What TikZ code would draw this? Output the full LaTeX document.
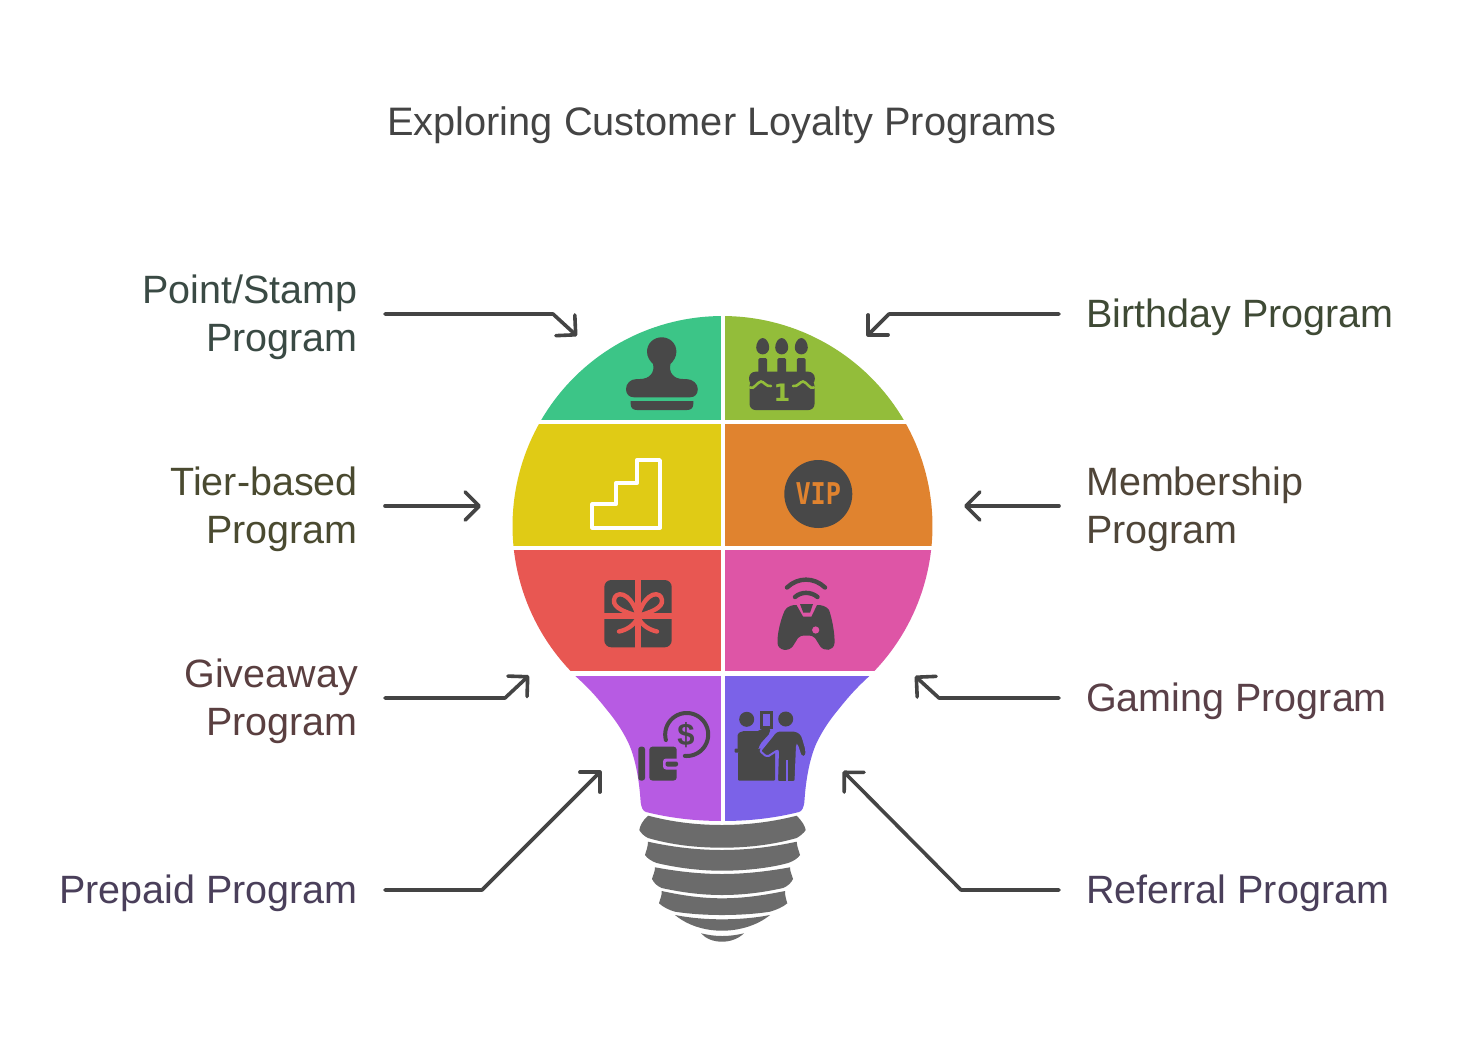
\documentclass[tikz,border=0pt]{standalone}
\usepackage{fontspec}
\setmainfont{Liberation Sans}
\newfontfamily\vipfont{DejaVu Sans Mono}
\newfontfamily\onefont{DejaVu Sans}
\usetikzlibrary{arrows.meta}
\definecolor{icondark}{HTML}{484848}
\definecolor{basegrey}{HTML}{6B6B6B}
\definecolor{linegrey}{HTML}{444444}
\definecolor{cgreen}{HTML}{3CC587}
\definecolor{clime}{HTML}{93BD3A}
\definecolor{cyellow}{HTML}{E0CB15}
\definecolor{corange}{HTML}{E0832F}
\definecolor{cred}{HTML}{E85752}
\definecolor{cpink}{HTML}{DE55A6}
\definecolor{cpurple}{HTML}{B75BE3}
\definecolor{cindigo}{HTML}{7B62E8}
\definecolor{tA}{HTML}{3A4A44}\definecolor{tB}{HTML}{3F4A35}
\definecolor{tC}{HTML}{4A4A30}\definecolor{tD}{HTML}{4F4538}
\definecolor{tE}{HTML}{5A3F40}\definecolor{tF}{HTML}{5A4048}
\definecolor{tG}{HTML}{4A3F5A}\definecolor{tH}{HTML}{4A3F5A}
\newcommand{\lst}{\rule[-11pt]{0pt}{48pt}}
\tikzset{
  labL/.style={anchor=east,align=right,inner ysep=0pt,inner xsep=0pt,font=\fontsize{39.5}{48}\selectfont},
  labR/.style={anchor=west,align=left,inner ysep=0pt,inner xsep=0pt,font=\fontsize{39.5}{48}\selectfont},
  conn/.style={draw=linegrey,line width=3.6pt,line cap=round,line join=round,-{Straight Barb[length=14pt,width=28pt,round]}},
  ico/.style={fill=icondark,draw=none},
  seg/.style={fill=basegrey,draw=none}
}
\begin{document}
\begin{tikzpicture}[x=1pt,y=-1pt]
\useasboundingbox (0,0) rectangle (1468,1042);
\fill[white] (0,0) rectangle (1468,1042);
\node[anchor=base,font=\fontsize{39.75}{48}\selectfont,text=linegrey,inner sep=0pt] (title) at (722,135) {Exploring Customer Loyalty Programs};

\node[labL,text=tA] (lab1) at (358,314) {\lst Point/Stamp\\\lst Program};
\node[labL,text=tC] (lab2) at (358,506) {\lst Tier-based\\\lst Program};
\node[labL,text=tE] (lab3) at (358,698) {\lst Giveaway\\\lst Program};
\node[labL,text=tG] (lab4) at (358,890) {\lst Prepaid Program};
\node[labR,text=tB] (lab5) at (1086,314) {\lst Birthday Program};
\node[labR,text=tD] (lab6) at (1086,506) {\lst Membership\\\lst Program};
\node[labR,text=tF] (lab7) at (1086,698) {\lst Gaming Program};
\node[labR,text=tH] (lab8) at (1086,890) {\lst Referral Program};

% bulb
\begin{scope}
\clip plot[domain=-90:45.4,samples=80] ({722.5+210*cos(\x)},{526+210*sin(\x)})
 .. controls (854,690) and (846,700) .. (838,710)
 .. controls (828,722) and (822,732) .. (817,742)
 .. controls (810,757) and (806,778) .. (804.5,800)
 .. controls (804,808) and (802,811) .. (799,812)
 .. controls (775,818) and (750,821) .. (722.5,821)
 .. controls (695,821) and (670,818) .. (646,812)
 .. controls (643,811) and (641,808) .. (640.5,800)
 .. controls (639,778) and (635,757) .. (628,742)
 .. controls (623,732) and (617,722) .. (607,710)
 .. controls (599,700) and (591,690) .. (575.3,676)
 -- plot[domain=134.6:270,samples=80] ({722.5+210*cos(\x)},{526+210*sin(\x)}) -- cycle;
\fill[cgreen] (500,300) rectangle (720.5,419.6);
\fill[clime] (725,300) rectangle (950,419.6);
\fill[cyellow] (500,424.4) rectangle (720.5,545.6);
\fill[corange] (725,424.4) rectangle (950,545.6);
\fill[cred] (500,550.2) rectangle (720.5,670.8);
\fill[cpink] (725,550.2) rectangle (950,670.8);
\fill[cpurple] (500,675.6) rectangle (720.5,830);
\fill[cindigo] (725,675.6) rectangle (950,830);
\end{scope}

% screw base
\fill[seg] (648.3,815.7) .. controls (642,821) and (640,826) .. (639.3,830) .. controls (641,833) and (644,836) .. (648,838) .. controls (672,845) and (697,847.7) .. (722,847.7) .. controls (747,847.7) and (772,845) .. (796.7,838) .. controls (800,836) and (804,833) .. (805.7,830) .. controls (805,826) and (802,821) .. (796.7,815.7) .. controls (772,822) and (747,825) .. (722,825) .. controls (697,825) and (672,822) .. (648.3,815.7) -- cycle;
\fill[seg] (648,841.7) .. controls (648,847) and (646,851) .. (645,855) .. controls (647,858) and (651,861) .. (656.7,863) .. controls (678,868) and (700,870.7) .. (722,870.7) .. controls (745,870.7) and (770,868) .. (788,863) .. controls (794,861) and (798,858) .. (800,855) .. controls (799,851) and (797,847) .. (796.7,841.7) .. controls (772,847) and (747,850) .. (722,850) .. controls (697,850) and (672,847) .. (648,841.7) -- cycle;
\fill[seg] (655,867.3) .. controls (655,872) and (653,875) .. (652,879) .. controls (654,883) and (657,886) .. (661.7,888) .. controls (680,892) and (700,895) .. (722,895) .. controls (745,895) and (765,892) .. (783,888) .. controls (788,886) and (791,883) .. (793,879) .. controls (792,875) and (790,872) .. (790,867.3) .. controls (770,871) and (746,874) .. (722,874) .. controls (698,874) and (675,871) .. (655,867.3) -- cycle;
\fill[seg] (661.7,891) .. controls (662,896) and (660,899) .. (659,903.3) .. controls (663,907) and (669,910) .. (675,911.7) .. controls (690,914) and (706,915) .. (722,915) .. controls (738,915) and (755,914) .. (770,911.7) .. controls (776,910) and (783,907) .. (787.3,903.3) .. controls (786,899) and (785,896) .. (785,891) .. controls (765,895) and (745,898.3) .. (722,898.3) .. controls (700,898.3) and (680,895) .. (661.7,891) -- cycle;
\fill[seg] (675,915) .. controls (690,918) and (706,919.3) .. (722,919.3) .. controls (738,919.3) and (755,918) .. (770,915) .. controls (758,925) and (740,930.7) .. (722,930.7) .. controls (704,930.7) and (687,925) .. (675,915) -- cycle;
\fill[seg] (701,933.3) .. controls (708,935) and (715,936) .. (722,936) .. controls (730,936) and (737,935) .. (744,933.3) .. controls (738,939) and (730,941.7) .. (722,941.7) .. controls (714,941.7) and (706,939) .. (701,933.3) -- cycle;

% stamp icon
\fill[ico] (661.7,337.3) .. controls (653.5,337.3) and (647,343.5) .. (647,351.7) .. controls (647,357) and (650,361) .. (653,364) .. controls (655,372) and (650,379) .. (640,379)
 -- (637,379) .. controls (630,379) and (626,384) .. (626,389) .. controls (626,394) and (629,397.3) .. (634,397.3) -- (690,397.3) .. controls (695,397.3) and (697.8,394) .. (697.8,389) .. controls (697.8,384) and (693,379) .. (686,379) -- (683,379)
 .. controls (673,379) and (668.5,372) .. (670.5,364) .. controls (673.5,361) and (676.4,357) .. (676.4,351.7) .. controls (676.4,343.5) and (670,337.3) .. (661.7,337.3) -- cycle;
\fill[ico] (630.7,401) -- (693.3,401) -- (693.3,404) .. controls (693.3,408) and (691,410) .. (687,410) -- (637,410) .. controls (633,410) and (630.7,408) .. (630.7,404) -- cycle;

% cake icon
\foreach \cx in {762.7,781.7,801.3}{
 \fill[ico] (\cx,338) .. controls (\cx+3.5,338) and (\cx+6.5,343) .. (\cx+6.5,347.5) .. controls (\cx+6.5,351.5) and (\cx+3.5,354.4) .. (\cx,354.4) .. controls (\cx-3.5,354.4) and (\cx-6.5,351.5) .. (\cx-6.5,347.5) .. controls (\cx-6.5,343) and (\cx-3.5,338) .. (\cx,338) -- cycle;
 \fill[ico,rounded corners=1.5pt] (\cx-4.4,358) rectangle (\cx+4.4,376);
}
\fill[ico,rounded corners=6.5pt] (749,371.7) rectangle (814.8,385.5);
\fill[ico,rounded corners=6pt] (749.5,380) rectangle (814.5,410);
\draw[clime,line width=2.6pt,line cap=round] (750,387.5) .. controls (754,390) and (757,382) .. (761,381.5) .. controls (764,381.5) and (766,387) .. (771,386);
\draw[clime,line width=2.6pt,line cap=round] (814,387.5) .. controls (810,390) and (807,382) .. (803,381.5) .. controls (800,381.5) and (798,387) .. (793,386);
\node[inner sep=0pt,text=clime,font=\onefont\fontsize{24}{24}\selectfont\bfseries] (cakeone) at (782,393) {1};

% stairs icon
\draw[white,line width=3.8pt,line join=round] (592.3,527.7) -- (660,527.7) -- (660,460) -- (636.7,460) -- (636.7,483.3) -- (615.7,483.3) -- (615.7,504.3) -- (592.3,504.3) -- cycle;

% VIP icon
\fill[ico] (818.3,494) circle[radius=34];
\node[inner sep=0pt,text=corange,font=\vipfont\fontsize{30}{30}\selectfont\bfseries,xscale=.84] (vip) at (818.3,494) {VIP};

% gift icon
\fill[ico,rounded corners=7pt] (604.3,580) rectangle (671.7,647.3);
\fill[cred] (635,578) rectangle (641,649);
\fill[cred] (603,613.3) rectangle (673,619.3);
\begin{scope}[draw=cred,line width=4.4pt,line cap=round,line join=round]
\filldraw[fill=icondark] (638,616) .. controls (625,612) and (613,608) .. (614,600) .. controls (615,591) and (630,590) .. (638,616) -- cycle;
\filldraw[fill=icondark] (638,616) .. controls (651,612) and (663,608) .. (662,600) .. controls (661,591) and (646,590) .. (638,616) -- cycle;
\draw (638,617) .. controls (634,626) and (626,630) .. (619,631.5);
\draw (638,617) .. controls (642,626) and (650,630) .. (657,631.5);
\end{scope}

% gamepad icon
\draw[icondark,line width=4.4pt,line cap=round] (787,587.5) .. controls (798,577) and (814,577) .. (825,587.5);
\draw[icondark,line width=4.4pt,line cap=round] (795,597) .. controls (801,591.5) and (811,591.5) .. (817.5,597);
\fill[ico] (796.5,605) -- (803,616.5) -- (811.5,616.5) -- (817,605) .. controls (822,605) and (826,606) .. (829,610) .. controls (832,618) and (835,634) .. (834.5,643) .. controls (834,651) and (824,652) .. (820,646) -- (815,638) .. controls (813,636) and (811,635.5) .. (809,635.5) -- (804,635.5) .. controls (802,635.5) and (800,636) .. (798,638) -- (793,646) .. controls (789,652) and (778,651) .. (777.5,643) .. controls (777,634) and (781,618) .. (785,610) .. controls (788,606) and (792,605) .. (796.5,605) -- cycle;
\fill[ico] (800,604) -- (813,604) -- (810,612.7) -- (803.3,612.7) -- cycle;
\fill[cpink] (815.7,630) circle[radius=3.6];

% wallet icon
\fill[ico,rounded corners=2.5pt] (638.3,746.7) rectangle (645,780.5);
\fill[ico,rounded corners=3pt] (649.3,746.7) rectangle (676.7,780.5);
\fill[cpurple,rounded corners=3pt] (663,758.5) rectangle (680,769.5);
\fill[ico,rounded corners=2pt] (665.5,761.5) rectangle (678,766.5);
\draw[icondark,line width=4pt,line cap=round] plot[domain=165:455,samples=60] ({686.7+21.5*cos(\x)},{734.5+21.5*sin(\x)});
\node[inner sep=0pt,text=icondark,font=\fontsize{31}{31}\selectfont\bfseries] (dollar) at (686,735.5) {\$};

% referral icon
\fill[ico] (746.7,719.3) circle[radius=7.5];
\fill[ico] (785.7,719) circle[radius=7.5];
\draw[icondark,line width=3pt] (761.5,712.5) rectangle (771,727);
\fill[ico,rounded corners=2pt] (737.5,750) -- (737.5,738) .. controls (737.5,733) and (741,731) .. (746,731) -- (760,731) -- (762,728) -- (770,728) -- (770,733) -- (760,744) -- (758,750) -- cycle;
\fill[ico,rounded corners=1pt] (734.5,748.5) rectangle (766,752.5);
\fill[ico,rounded corners=1pt] (738,752) rectangle (775,780.5);
\filldraw[fill=icondark,draw=cindigo,line width=2pt,rounded corners=2pt] (760,751) -- (773,735) .. controls (775,732) and (778,730.5) .. (781,730.5) -- (791,730.5) .. controls (797,730.5) and (801,733) .. (803,738) -- (806.5,750) -- (806,757) -- (801,757) -- (797,745) -- (795.5,782) -- (777,782) -- (778,750) -- (767,757) -- cycle;
\fill[cindigo] (786.4,760) rectangle (787.9,782);

% connectors
\coordinate (s1) at (385,314); \coordinate (e1) at (553,314); \coordinate (t1) at (577,336);
\coordinate (s2) at (385,506); \coordinate (t2) at (481,506);
\coordinate (s3) at (385,698); \coordinate (e3) at (505,698); \coordinate (t3) at (529,675.5);
\coordinate (s4) at (385,890); \coordinate (e4) at (482,890); \coordinate (t4) at (601,771);
\coordinate (s5) at (1059,314); \coordinate (e5) at (889,314); \coordinate (t5) at (867,336);
\coordinate (s6) at (1059,506); \coordinate (t6) at (964,506);
\coordinate (s7) at (1059,698); \coordinate (e7) at (939,698); \coordinate (t7) at (915,676);
\coordinate (s8) at (1059,890); \coordinate (e8) at (961,890); \coordinate (t8) at (843,771);
\draw[conn] (s1) -- (e1) -- (t1);
\draw[conn] (s2) -- (t2);
\draw[conn] (s3) -- (e3) -- (t3);
\draw[conn] (s4) -- (e4) -- (t4);
\draw[conn] (s5) -- (e5) -- (t5);
\draw[conn] (s6) -- (t6);
\draw[conn] (s7) -- (e7) -- (t7);
\draw[conn] (s8) -- (e8) -- (t8);
\end{tikzpicture}
\end{document}
